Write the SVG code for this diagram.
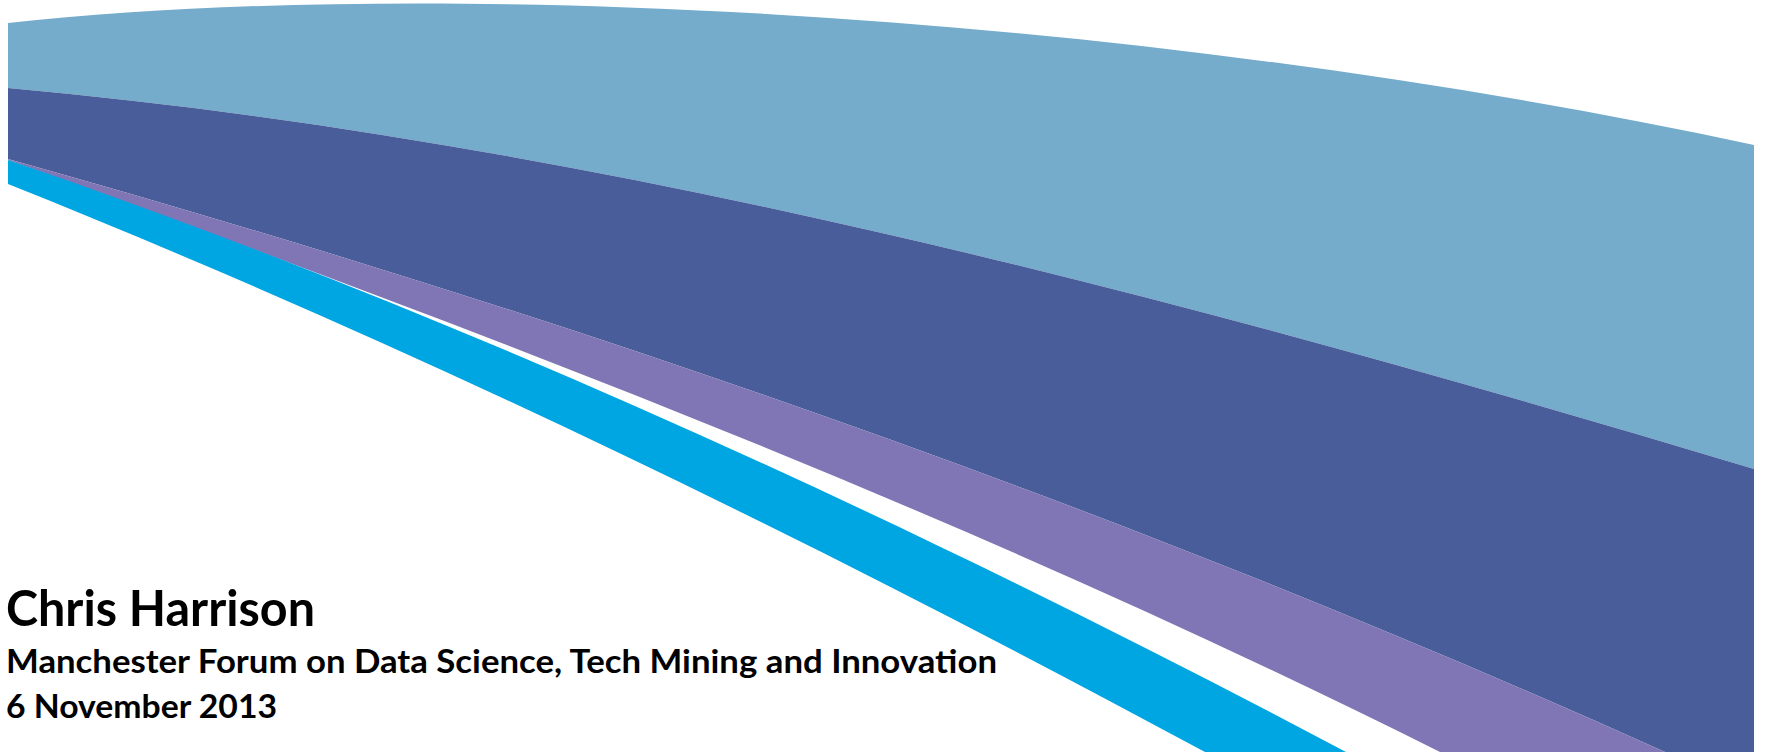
<svg xmlns="http://www.w3.org/2000/svg" width="1765" height="752" viewBox="0 0 1765 752">
<style>
.t{font-family:Lato,"Open Sans","Liberation Sans",sans-serif;font-weight:bold;fill:#000}
</style>
<rect width="1765" height="752" fill="#fff"/>
<g id="band-lightblue">
<path d="M8,23 C450,-25 1150,15 1754,145 L1754,469 C1174,295 588,140 8,88 Z" fill="#75ACCB"/>
</g>
<g id="band-darkblue">
<path d="M8,88 C588,140 1174,295 1754,469 L1754,752 L1665,752 C1115,504.5 558,313 8,159 Z" fill="#485D9A"/>
</g>
<g id="band-purple">
<path d="M8,159 C558,313 1115,504.5 1665,752 L1440,752 C960,512 488,332.8 8,160 Z" fill="#8076B5"/>
</g>
<g id="band-cyan">
<path d="M8,160 C448,309.6 906,518.8 1346,752 L1205,752 C805,536 408,344 8,184 Z" fill="#00A6E2"/>
</g>
<g id="title">
<text class="t" x="6" y="626" font-size="50" textLength="309" lengthAdjust="spacingAndGlyphs">Chris Harrison</text>
<text class="t" x="6" y="673" font-size="32" textLength="991" lengthAdjust="spacingAndGlyphs">Manchester Forum on Data Science, Tech Mining and Innovation</text>
<text class="t" x="6" y="718" font-size="32" textLength="271" lengthAdjust="spacingAndGlyphs">6 November 2013</text>
</g>
</svg>
